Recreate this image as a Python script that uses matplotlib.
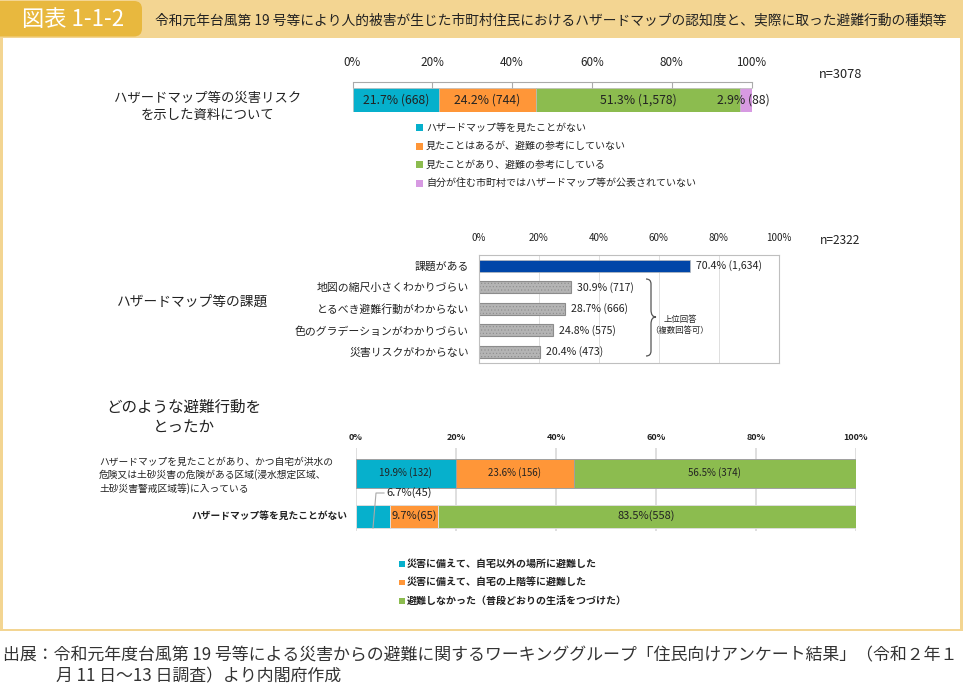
import matplotlib
matplotlib.use("Agg")
import matplotlib.pyplot as plt
from matplotlib.patches import Rectangle, PathPatch, FancyBboxPatch
from matplotlib.path import Path

plt.rcParams['font.family'] = ['Noto Sans CJK JP', 'DejaVu Sans']
plt.rcParams['hatch.linewidth'] = 0.4
plt.rcParams['hatch.color'] = '#777777'

W, H = 963, 684
TEAL, ORANGE, GREEN, PINK = '#06B0CC', '#FF9638', '#8CBC4F', '#D79AE2'
BLUE = '#0046A8'
TEXT = '#222222'

# chart 1
map_values = [21.7, 24.2, 51.3, 2.9]
map_labels = ['21.7% (668)', '24.2% (744)', '51.3% (1,578)', '2.9% (88)']
map_legend = ['ハザードマップ等を見たことがない',
              '見たことはあるが、避難の参考にしていない',
              '見たことがあり、避難の参考にしている',
              '自分が住む市町村ではハザードマップ等が公表されていない']

# chart 2
issue_names = ['課題がある', '地図の縮尺小さくわかりづらい', 'とるべき避難行動がわからない',
               '色のグラデーションがわかりづらい', '災害リスクがわからない']
issue_values = [70.4, 30.9, 28.7, 24.8, 20.4]
issue_labels = ['70.4% (1,634)', '30.9% (717)', '28.7% (666)', '24.8% (575)', '20.4% (473)']

# chart 3
action_names = ['ハザードマップを見たことがあり、かつ自宅が洪水の\n危険又は土砂災害の危険がある区域(浸水想定区域、\n土砂災害警戒区域等)に入っている',
                'ハザードマップ等を見たことがない']
action_evac = [19.9, 6.7]
action_upper = [23.6, 9.7]
action_none = [56.5, 83.5]
action_evac_labels = ['19.9% (132)', '']
action_upper_labels = ['23.6% (156)', '9.7%(65)']
action_none_labels = ['56.5% (374)', '83.5%(558)']
action_legend = ['災害に備えて、自宅以外の場所に避難した',
                 '災害に備えて、自宅の上階等に避難した',
                 '避難しなかった（普段どおりの生活をつづけた）']

ticks = [0, 20, 40, 60, 80, 100]
tick_labels = ['0%', '20%', '40%', '60%', '80%', '100%']


def axes_px(fig, x0, y0, x1, y1):
    # pixel box with origin at the top left
    return fig.add_axes([x0 / W, 1 - y1 / H, (x1 - x0) / W, (y1 - y0) / H])


fig = plt.figure(figsize=(W / 100, H / 100), dpi=100, facecolor='white')

# overlay in pixel coordinates for the frame and free text
bg = fig.add_axes([0, 0, 1, 1], zorder=0)
bg.set_xlim(0, W)
bg.set_ylim(H, 0)
bg.axis('off')

frame = '#F3D592'
bg.add_patch(Rectangle((0, 0), W, 37.5, color=frame, lw=0))
bg.add_patch(Rectangle((0, 37), 3, 594, color=frame, lw=0))
bg.add_patch(Rectangle((960, 37), 3, 594, color=frame, lw=0))
bg.add_patch(Rectangle((0, 628.5), W, 2.5, color=frame, lw=0))
bg.add_patch(FancyBboxPatch((-12, 1), 154, 35.5, boxstyle='round,pad=0,rounding_size=8',
                            color='#E8B83E', lw=0))
bg.text(73, 19, '図表 1-1-2', color='white', fontsize=16, ha='center', va='center')
bg.text(551, 20.5, '令和元年台風第 19 号等により人的被害が生じた市町村住民におけるハザードマップの認知度と、実際に取った避難行動の種類等',
        color=TEXT, fontsize=9.9, ha='center', va='center')

bg.text(208, 106, 'ハザードマップ等の災害リスク\nを示した資料について', color=TEXT, fontsize=9.6,
        ha='center', va='center', linespacing=1.25)
bg.text(193, 302, 'ハザードマップ等の課題', color=TEXT, fontsize=9.9, ha='center', va='center')
bg.text(184, 417.5, 'どのような避難行動を\nとったか', color=TEXT, fontsize=11.2,
        ha='center', va='center', linespacing=1.25)
bg.text(819, 75, 'n=3078', color=TEXT, fontsize=9.2, va='center')
bg.text(820, 240, 'n=2322', color=TEXT, fontsize=8.6, va='center')

# chart 1: one stacked bar
ax1 = axes_px(fig, 352.5, 82, 751.5, 112)
ax1.set_xlim(0, 100)
ax1.set_ylim(0, 1)
left = 0
for val, col, lab in zip(map_values, [TEAL, ORANGE, GREEN, PINK], map_labels):
    ax1.barh(0.4, val, left=left, height=0.77, color=col, edgecolor='#BBBBBB', lw=0.5)
    if lab.startswith('2.9'):
        ax1.text(left + val / 2 - 0.6, 0.4, lab, ha='center', va='center', fontsize=8.8,
                 color=TEXT, clip_on=False)
    else:
        ax1.text(left + val / 2, 0.4, lab, ha='center', va='center', fontsize=8.8, color=TEXT)
    left += val
ax1.xaxis.tick_top()
ax1.set_xticks(ticks, tick_labels, fontsize=8.4, color=TEXT)
ax1.tick_params(axis='x', length=4, width=0.8, color='#AAAAAA', direction='in', pad=9)
ax1.set_yticks([])
ax1.patch.set_alpha(0)
for s in ['left', 'right', 'bottom']:
    ax1.spines[s].set_visible(False)
ax1.spines['top'].set_color('#AAAAAA')

for i, (txt, col) in enumerate(zip(map_legend, [TEAL, ORANGE, GREEN, PINK])):
    y = 127.5 + i * 18.5
    bg.add_patch(Rectangle((416, y - 3.5), 7, 7, color=col, lw=0))
    bg.text(426, y, txt, fontsize=7.2, color=TEXT, va='center')

# chart 2: ranked bars
ax2 = axes_px(fig, 478.5, 255, 779, 362.5)
ax2.set_xlim(0, 100)
ax2.set_ylim(4.5, -0.5)
for i, (val, lab) in enumerate(zip(issue_values, issue_labels)):
    if i == 0:
        ax2.barh(i, val, height=0.58, color=BLUE, edgecolor='#BBBBBB', lw=0.5)
    else:
        ax2.barh(i, val, height=0.58, facecolor='#B4B4B4', edgecolor='#8C8C8C', hatch='.....', lw=0.8)
    ax2.text(val + 2, i, lab, va='center', fontsize=7.6, color=TEXT)
ax2.xaxis.tick_top()
ax2.set_xticks(ticks, tick_labels, fontsize=7, color=TEXT)
ax2.tick_params(axis='x', length=0, pad=8.5)
ax2.set_yticks(range(len(issue_names)), issue_names, fontsize=7.8, color=TEXT)
ax2.tick_params(axis='y', length=0, pad=7)
ax2.grid(axis='x', color='#D9D9D9', lw=0.6)
ax2.set_axisbelow(True)
ax2.patch.set_alpha(0)
for s in ax2.spines.values():
    s.set_color('#BFBFBF')

# brace next to the multiple answer bars
brace = Path([(646, 279), (651, 279), (651, 284), (651, 310),
              (651, 317), (656, 317), (651, 317), (651, 324),
              (651, 351), (651, 356), (646, 356)],
             [Path.MOVETO, Path.CURVE3, Path.CURVE3, Path.LINETO,
              Path.CURVE3, Path.CURVE3, Path.CURVE3, Path.CURVE3,
              Path.LINETO, Path.CURVE3, Path.CURVE3])
overlay = fig.add_axes([0, 0, 1, 1], zorder=5)
overlay.set_xlim(0, W)
overlay.set_ylim(H, 0)
overlay.axis('off')
overlay.add_patch(PathPatch(brace, fill=False, edgecolor='#555555', lw=0.9))
overlay.text(680, 325, '上位回答\n（複数回答可）', fontsize=6, ha='center', va='center',
             color=TEXT, linespacing=1.4)

# chart 3: two stacked bars
ax3 = axes_px(fig, 356, 448, 856, 531)
ax3.set_xlim(0, 100)
ax3.set_ylim(83, 0)
rows = [25, 68]
heights = [29, 23]
for i, y in enumerate(rows):
    edge = '#A0A0A0' if i == 0 else '#DDDDDD'
    ax3.barh(y, action_evac[i], height=heights[i], color=TEAL, edgecolor=edge, lw=0.7)
    ax3.barh(y, action_upper[i], left=action_evac[i], height=heights[i], color=ORANGE, edgecolor=edge, lw=0.7)
    ax3.barh(y, action_none[i], left=action_evac[i] + action_upper[i], height=heights[i], color=GREEN,
             edgecolor=edge, lw=0.7)
    size = 7 if i == 0 else 8
    if action_evac_labels[i]:
        ax3.text(action_evac[i] / 2, y, action_evac_labels[i], ha='center', va='center', fontsize=size, color=TEXT)
    ax3.text(action_evac[i] + action_upper[i] / 2, y, action_upper_labels[i], ha='center', va='center',
             fontsize=size, color=TEXT)
    ax3.text(action_evac[i] + action_upper[i] + action_none[i] / 2, y, action_none_labels[i], ha='center',
             va='center', fontsize=size, color=TEXT)
ax3.xaxis.tick_top()
ax3.set_xticks(ticks, tick_labels, fontsize=6.5, color=TEXT, fontweight='bold')
ax3.tick_params(axis='x', length=0, pad=4)
ax3.set_yticks([])
ax3.grid(axis='x', color='#D9D9D9', lw=1.2)
ax3.set_axisbelow(True)
ax3.patch.set_alpha(0)
for s in ax3.spines.values():
    s.set_visible(False)

bg.text(99, 475.5, action_names[0], fontsize=7, color=TEXT, va='center', linespacing=1.25)
bg.text(348, 516, action_names[1], fontsize=7, color=TEXT, va='center', ha='right', fontweight='bold')

# leader line for the small 6.7% segment
overlay.plot([373, 376, 384], [528, 493, 493], color='#AAAAAA', lw=0.8)
overlay.text(386, 493, '6.7%(45)', fontsize=8, color=TEXT, va='center')

for i, (txt, col) in enumerate(zip(action_legend, [TEAL, ORANGE, GREEN])):
    y = 563.5 + i * 18.7
    bg.add_patch(Rectangle((399, y - 2.5), 5.5, 5.5, color=col, lw=0))
    bg.text(407, y, txt, fontsize=7.2, color=TEXT, va='center', fontweight='bold')

# source note
bg.text(3, 655.5, '出展：令和元年度台風第 19 号等による災害からの避難に関するワーキンググループ「住民向けアンケート結果」（令和２年１',
        fontsize=12.2, color='#333333', va='center')
bg.text(56, 676.5, '月 11 日～13 日調査）より内閣府作成', fontsize=12.2, color='#333333', va='center')

fig.savefig('out.png', dpi=100)
